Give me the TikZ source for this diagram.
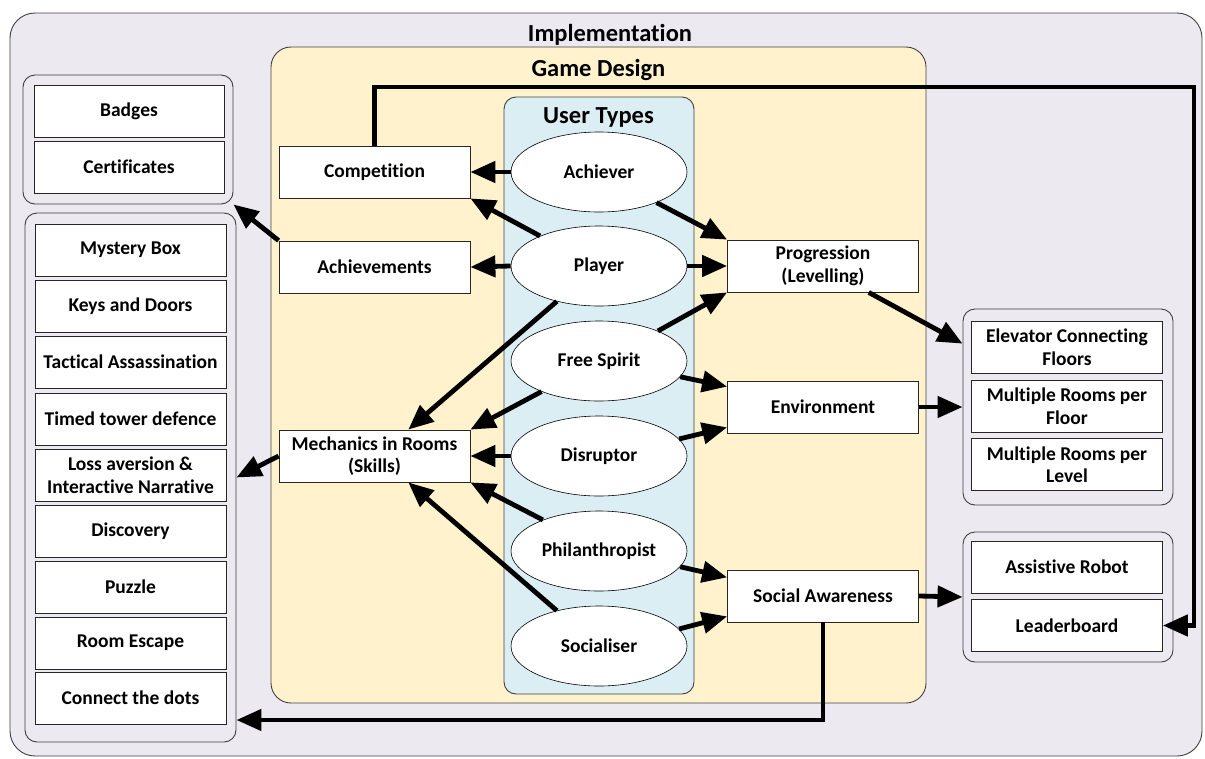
\documentclass[tikz,border=0pt]{standalone}
\usepackage{fontspec}
\setmainfont{Carlito}[Ligatures=NoCommon]
\usetikzlibrary{arrows.meta,shapes.geometric}

\definecolor{implfill}{RGB}{236,233,241}
\definecolor{designfill}{RGB}{255,242,204}
\definecolor{typefill}{RGB}{219,238,243}
\definecolor{edge}{RGB}{64,64,64}

\begin{document}
\begin{tikzpicture}[x=1pt, y=-1pt,
    group/.style={draw=edge, line width=0.9pt, rounded corners=#1, inner sep=0pt},
    group/.default=12pt,
    item/.style={draw=black!85, line width=0.8pt, fill=white, minimum width=191pt, minimum height=52pt,
        inner sep=1pt, align=center, font=\bfseries\fontsize{19.5}{22.5}\selectfont},
    usertype/.style={ellipse, draw=black, line width=0.6pt, fill=white, minimum width=176pt,
        minimum height=80pt, inner sep=0pt, font=\bfseries\fontsize{19.5}{22.5}\selectfont},
    heading/.style={anchor=base, font=\bfseries\fontsize{24.5}{28}\selectfont},
    link/.style={line width=4.8pt, -{Triangle[length=25pt,width=21pt]}}]
    \useasboundingbox (0,0) rectangle (1205,758);

    % containers
    \node[group=25pt, fill=implfill, minimum width=1192pt, minimum height=743pt] (impl) at (606,384.5) {};
    \node[group=20pt, fill=designfill, minimum width=655pt, minimum height=656pt] (design) at (598.5,375) {};
    \node[group, fill=typefill, minimum width=190pt, minimum height=597pt] (types) at (599,395.5) {};
    \node[group, fill=implfill, minimum width=210pt, minimum height=129pt] (badgegrp) at (128,139.5) {};
    \node[group, fill=implfill, minimum width=211pt, minimum height=529pt] (mechgrp) at (130.5,477.5) {};
    \node[group, fill=implfill, minimum width=210pt, minimum height=196pt] (envgrp) at (1068,407) {};
    \node[group, fill=implfill, minimum width=210pt, minimum height=130pt] (socgrp) at (1068,597) {};

    \node[heading] (impltitle) at (610,41) {Implementation};
    \node[heading] (designtitle) at (598.5,76) {Game Design};
    \node[heading] (typestitle) at (598.5,123) {User Types};

    % left column
    \node[item, minimum width=190pt] (badges) at (129,111) {Badges};
    \node[item, minimum width=190pt] (certs) at (129,167) {Certificates};
    \node[item] (mystery) at (130.5,250) {Mystery Box};
    \node[item] (keys) at (130.5,306) {Keys and Doors};
    \node[item] (tactical) at (130.5,362) {Tactical Assassination};
    \node[item] (tower) at (130.5,419) {Timed tower defence};
    \node[item] (loss) at (130.5,475) {Loss aversion \&\\Interactive Narrative};
    \node[item] (discovery) at (130.5,531) {Discovery};
    \node[item] (puzzle) at (130.5,587) {Puzzle};
    \node[item] (escape) at (130.5,643) {Room Escape};
    \node[item] (dots) at (130.5,698) {Connect the dots};

    % game design elements
    \node[item] (comp) at (374.5,172) {Competition};
    \node[item] (achv) at (374.5,267) {Achievements};
    \node[item] (mech) at (374.5,456) {Mechanics in Rooms\\(Skills)};
    \node[item] (prog) at (823,266) {Progression\\(Levelling)};
    \node[item] (env) at (823,407) {Environment};
    \node[item] (social) at (823,596) {Social Awareness};

    % user types
    \node[usertype] (achiever) at (599,172) {Achiever};
    \node[usertype] (player) at (599,266) {Player};
    \node[usertype] (freespirit) at (599,361) {Free Spirit};
    \node[usertype] (disruptor) at (599,456) {Disruptor};
    \node[usertype] (philan) at (599,551) {Philanthropist};
    \node[usertype] (socialiser) at (599,646) {Socialiser};

    % right column
    \node[item] (elevator) at (1067,347) {Elevator Connecting\\Floors};
    \node[item] (floorrooms) at (1067,406) {Multiple Rooms per\\Floor};
    \node[item] (levelrooms) at (1067,464.5) {Multiple Rooms per\\Level};
    \node[item] (robot) at (1067,567) {Assistive Robot};
    \node[item] (board) at (1067,625.5) {Leaderboard};

    % links
    \draw[link] (achiever.west) -- (comp.east);
    \draw[link] (player.153) -- (comp.south east);
    \draw[link] (player.west) -- (achv.east);
    \draw[link] (achv.north west) -- (badgegrp.south east);
    \draw[link] (achiever.-28) -- (prog.north west);
    \draw[link] (player.east) -- (prog.west);
    \draw[link] (freespirit.27) -- (prog.south west);
    \draw[link] (player.220) -- (mech.38);
    \draw[link] (freespirit.208) -- (mech.north east);
    \draw[link] (disruptor.west) -- (mech.east);
    \draw[link] (philan.151) -- (mech.south east);
    \draw[link] (socialiser.140) -- (mech.-38);
    \draw[link] (mech.west) -- (mechgrp.east);
    \draw[link] (freespirit.-11.5) -- (env.168);
    \draw[link] (disruptor.12.8) -- (env.192);
    \draw[link] (prog.-30) -- (envgrp.149);
    \draw[link] (env.east) -- (envgrp.west);
    \draw[link] (philan.-11.5) -- (social.169);
    \draw[link] (socialiser.12.8) -- (social.192);
    \draw[link] (social.east) -- (socgrp.west);

    \coordinate (socturn) at (823,720);
    \draw[link] (social.south) -- (socturn) -- (socturn -| mechgrp.east);
    \coordinate (compturn) at (374.5,87);
    \coordinate (boardturn) at (1194,87);
    \draw[link] (comp.north) -- (compturn) -- (boardturn) |- (board.east);
\end{tikzpicture}
\end{document}
